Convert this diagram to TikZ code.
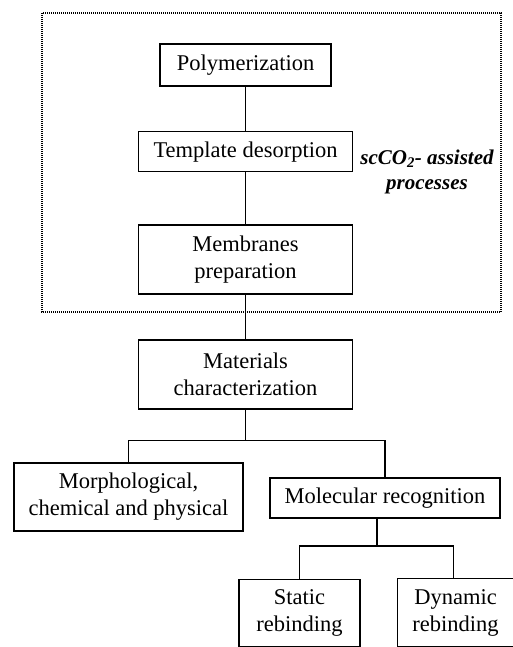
\documentclass[tikz,border=0pt]{standalone}
\usepackage{fontspec}
\setmainfont{Liberation Serif}
\usetikzlibrary{positioning}
\tikzset{
  flow box/.style={
    draw=black,
    line width=1.6pt,
    align=center,
    inner sep=2pt,
    font=\fontsize{22.5}{27}\selectfont
  },
  flow link/.style={line width=1.6pt},
  flow group/.style={line width=1.1pt, dash pattern=on 1pt off 1pt},
  flow note/.style={align=center, font=\fontsize{21}{25}\selectfont\bfseries\itshape}
}
\begin{document}
\begin{tikzpicture}[x=1pt,y=-1pt]
\useasboundingbox (0,0) rectangle (512,647);
\node[flow box, minimum width=171pt, minimum height=42pt] (poly) at (245.5,65) {Polymerization};
\node[flow box, minimum width=214pt, minimum height=40pt, below=44pt of poly] (tmpl) {Template desorption};
\node[flow box, minimum width=214pt, minimum height=69pt, below=52pt of tmpl] (memb) {Membranes\\preparation};
\node[flow box, minimum width=214pt, minimum height=69pt, below=44pt of memb] (mat) {Materials\\characterization};
\node[flow box, minimum width=229pt, minimum height=68pt] (morph) at (128.5,497) {Morphological,\\chemical and physical};
\node[flow box, minimum width=230pt, minimum height=40pt] (molec) at (385,498) {Molecular recognition};
\node[flow box, minimum width=121pt, minimum height=67pt] (static) at (299.5,613) {Static\\rebinding};
\node[flow box, minimum width=116pt, minimum height=68pt] (dyn) at (455.5,612.5) {Dynamic\\rebinding};
\node[flow note] (note) at (427,172) {scCO\textsubscript{2}- assisted\\processes};
\draw[flow group] (42,13) rectangle (501,312);
\draw[flow link] (poly)--(tmpl);
\draw[flow link] (tmpl)--(memb);
\draw[flow link] (memb)--(mat);
\draw[flow link] (mat.south)--++(0,31)-|(morph.north);
\draw[flow link] (mat.south)--++(0,31)-|(molec.north);
\draw[flow link] ([xshift=-8pt]molec.south)--++(0,27)-|(static.north);
\draw[flow link] ([xshift=-8pt]molec.south)--++(0,27)-|([xshift=-2pt]dyn.north);
\end{tikzpicture}
\end{document}
